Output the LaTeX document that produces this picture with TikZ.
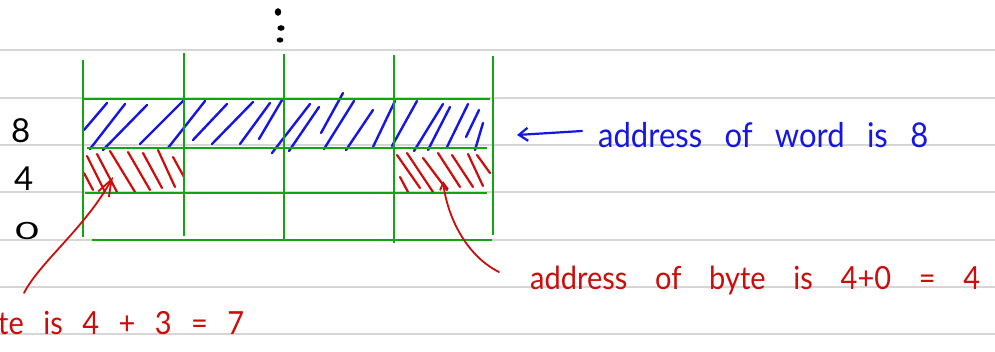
\documentclass[tikz,border=0pt]{standalone}
\usepackage{fontspec}
\setmainfont{Lato}
\usetikzlibrary{arrows.meta}
\definecolor{rulegray}{RGB}{214,214,214}
\definecolor{gridgreen}{RGB}{18,165,18}
\definecolor{inkblue}{RGB}{22,22,228}
\definecolor{inkred}{RGB}{205,12,12}
\tikzset{
  ruling/.style={rulegray, line width=1.6pt},
  gridline/.style={gridgreen, line width=2.8pt},
  bluehatch/.style={inkblue, line width=2.4pt, line cap=round},
  redhatch/.style={inkred, line width=2.2pt, line cap=round},
  rownum/.style={inner sep=0pt, anchor=base west, font=\fontsize{33}{38}\selectfont},
  bluenote/.style={inner sep=0pt, anchor=base west, text=inkblue, font=\fontsize{31}{36}\selectfont},
  rednote/.style={inner sep=0pt, anchor=base west, text=inkred, font=\fontsize{29}{34}\selectfont},
  bluearrow/.style={inkblue, line width=2.2pt, line cap=round, -{Straight Barb[length=9pt,width=13pt]}},
  redarrow/.style={inkred, line width=1.8pt, line cap=round},
}
\begin{document}
\begin{tikzpicture}[x=1pt,y=-1pt]
\useasboundingbox (0,0) rectangle (995,351);
\fill[white] (0,0) rectangle (995,351);

% ruled paper lines
\foreach \y in {50,98,145,192,240,287,334}
  \draw[ruling] (0,\y) -- (995,\y);

% vertical ellipsis above the memory
\fill (278,12) ellipse (3.2pt and 3.8pt);
\fill (281,28) ellipse (3.6pt and 2.8pt);
\fill (280,40) ellipse (3.4pt and 2.6pt);

% blue hatching: the word at address 8
\foreach \a/\b/\c/\d in {84/130/107/103, 90/149/125/104, 103/150/147/105, 140/144/183/101,
    168/148/205/101, 193/140/227/104, 212/144/253/102, 240/144/270/103, 259/139/282/100,
    272/153/310/104, 289/151/319/107, 321/133/343/93, 324/149/354/101, 346/150/373/110,
    373/147/395/101, 392/146/417/101, 414/151/443/104, 428/150/450/107, 447/147/468/104,
    466/137/479/110, 475/150/483/123}
  \draw[bluehatch] (\a,\b) -- (\c,\d);

% red hatching: the two bytes at address 4
\foreach \a/\b/\c/\d in {84/173/93/190, 87/156/105/192, 97/154/117/192, 110/151/135/192,
    128/152/150/190, 143/153/162/188, 158/150/175/187, 173/157/184/177,
    397/155/420/188, 400/177/408/192, 407/153/433/192, 423/158/447/190,
    438/153/460/187, 452/155/473/187, 468/154/483/186, 477/155/490/173}
  \draw[redhatch] (\a,\b) -- (\c,\d);

% memory grid
\draw[gridline] (83,60) -- (83,237);
\draw[gridline] (184,53) -- (184,236);
\draw[gridline] (284,54) -- (284,240);
\draw[gridline] (394,55) -- (394,243);
\draw[gridline] (493,56) -- (493,235);
\draw[gridline] (83,99) -- (490,99);
\draw[gridline] (87,148) -- (487,148);
\draw[gridline] (85,193) -- (487,193);
\draw[gridline] (92,240) -- (492,240);

% row addresses
\node[rownum] (r8) at (11,142) {8};
\node[rownum] (r4) at (14,190) {4};
\node[rownum] (r0) at (15,239) {\scalebox{1.25}[0.72]{0}};

% notes
\node[bluenote] (wordnote) at (598,147) {\scalebox{1}[1.1]{\makebox[330pt][s]{address of word is 8}}};
\node[rednote] (bytenote) at (530,289) {\scalebox{1}[1.1]{\makebox[450pt][s]{address of byte is 4+0 = 4}}};
\node[rednote] (bytenote2) at (-2,334) {\scalebox{1}[1.1]{\makebox[246pt][s]{te is 4 + 3 = 7}}};

% arrows
\coordinate (wtail) at (582,131);
\coordinate (whead) at (517,135);
\draw[bluearrow] (wtail) -- (whead);

\coordinate (ltail) at (24,293);
\coordinate (lhead) at (113,177);
\draw[redarrow, -{Straight Barb[length=17pt,width=12pt]}] (ltail) .. controls (40,262) and (85,228) .. (lhead);

\coordinate (rtail) at (499,272);
\coordinate (rhead) at (443,181);
\draw[redarrow, -{Straight Barb[length=7pt,width=8pt]}] (rtail) .. controls (465,255) and (447,215) .. (rhead);
\end{tikzpicture}
\end{document}
